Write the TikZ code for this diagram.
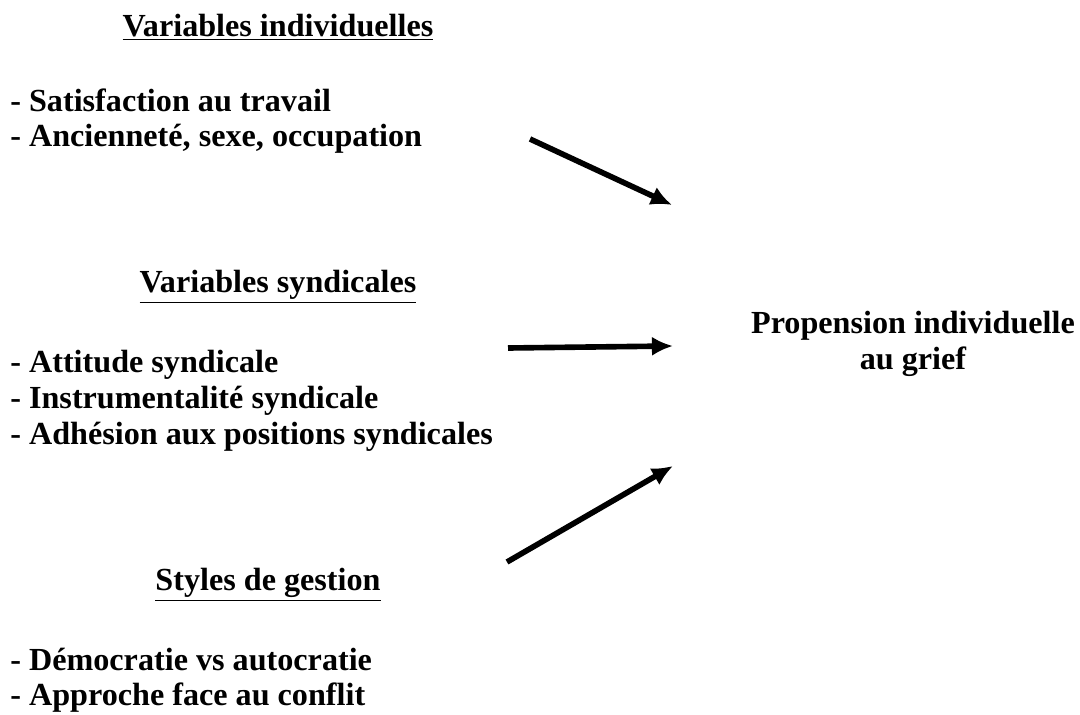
\documentclass[tikz,border=0pt]{standalone}
\usepackage{fontspec}
\setmainfont{Liberation Serif}
\usetikzlibrary{arrows.meta}

\begin{document}
\begin{tikzpicture}[
  txt/.style={font=\fontsize{18.3}{20.5}\selectfont\bfseries, inner sep=0pt},
  item/.style={txt, anchor=west, text height=13pt, text depth=4pt},
  fleche/.style={line width=3.2pt, -{Latex[length=12pt,width=11pt]}}
]
\useasboundingbox (0,0) rectangle (21.6,14.28);

% Variables individuelles
\node[txt] (titreind)
at (5.56,13.74)
{\underline{Variables individuelles}};

\node[item] (satis)
at (0.2,12.2)
{- Satisfaction au travail};

\node[item] (anc)
at (0.2,11.5)
{- Ancienneté, sexe, occupation};

% Variables syndicales
\node[txt] (titresynd)
at (5.56,8.54)
{\underline{Variables syndicales}};

\node[item] (attit)
at (0.2,6.99)
{- Attitude syndicale};

\node[item] (instr)
at (0.2,6.27)
{- Instrumentalité syndicale};

\node[item] (adh)
at (0.2,5.55)
{- Adhésion aux positions syndicales};

% Styles de gestion
\node[txt] (titregest)
at (5.36,2.58)
{\underline{Styles de gestion}};

\node[item] (democ)
at (0.2,1.02)
{- Démocratie vs autocratie};

\node[item] (appr)
at (0.2,0.32)
{- Approche face au conflit};

% Propension
\node[txt, align=center] (grief)
at (18.26,7.4)
{Propension individuelle\\au grief};

% Flèches
\coordinate (indA) at (10.6,11.5);
\coordinate (indB) at (13.44,10.18);
\coordinate (syndA) at (10.16,7.32);
\coordinate (syndB) at (13.46,7.36);
\coordinate (gestA) at (10.14,3.04);
\coordinate (gestB) at (13.46,4.96);

\draw[fleche]
(indA)
--
(indB);

\draw[fleche]
(syndA)
--
(syndB);

\draw[fleche]
(gestA)
--
(gestB);

\end{tikzpicture}
\end{document}
